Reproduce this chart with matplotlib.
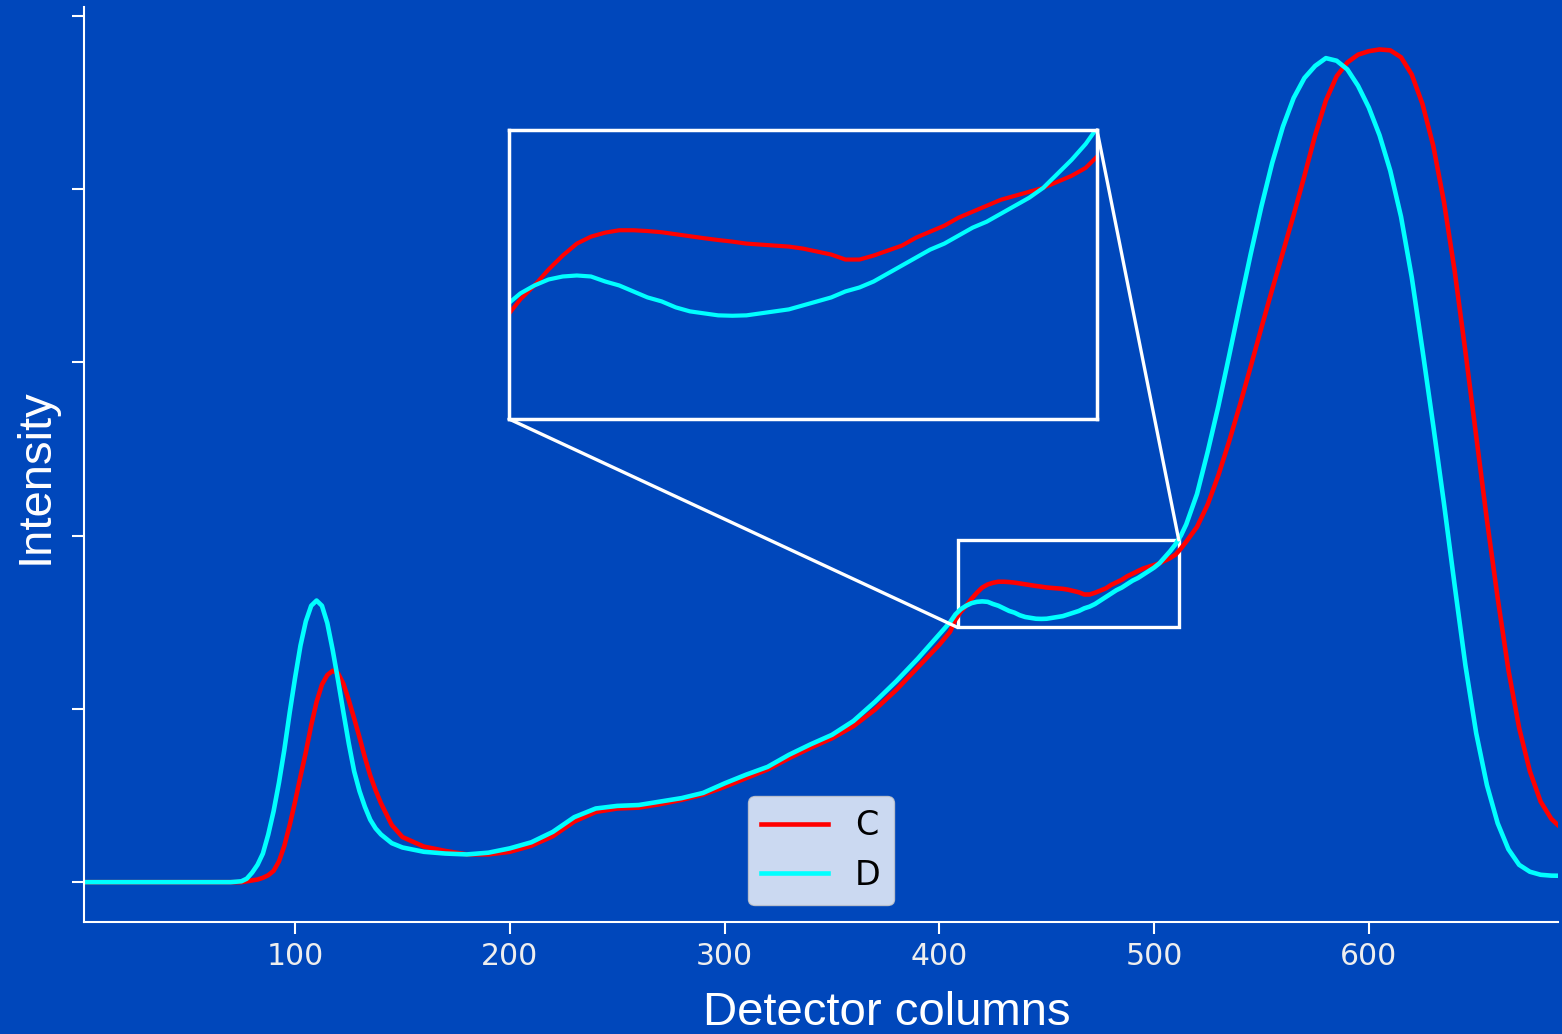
import matplotlib.pyplot as plt
from matplotlib.patches import Rectangle, ConnectionPatch

# detector column positions where the two profiles were read
cols = [2, 20, 40, 60, 70, 75,
        77.5, 80, 82.5, 85, 87.5, 90, 92.5, 95, 97.5, 100,
        102.5, 105, 107.5, 110, 112.5, 115, 117.5, 120, 122.5, 125,
        127.5, 130, 132.5, 135, 137.5, 140,
        145, 150, 160, 170, 180, 190, 200, 210, 220, 230, 240, 250, 260,
        270, 280, 290, 300, 310, 320, 330, 340, 350, 360, 370, 380, 390, 400,
        405, 407.5, 410, 412.5, 415, 417.5, 420, 422.5, 425, 427.5,
        430, 432.5, 435, 437.5, 440, 442.5, 445, 447.5, 450, 452.5,
        455, 457.5, 460, 462.5, 465, 467.5, 470, 472.5, 475, 477.5,
        480, 482.5, 485, 487.5, 490, 492.5, 495, 497.5, 500, 502.5,
        505, 507.5, 510, 512.5, 515,
        520, 525, 530, 535, 540, 545, 550, 555, 560, 565, 570, 575, 580,
        585, 590, 595, 600, 605, 610, 615, 620, 625, 630, 635, 640, 645,
        650, 655, 660, 665, 670, 675, 680, 685, 688]

c_vals = [0, 0, 0, 0, 0, 0,
          0.001, 0.002, 0.003, 0.005, 0.008, 0.013, 0.024, 0.042, 0.066, 0.093,
          0.122, 0.150, 0.181, 0.208, 0.228, 0.239, 0.244, 0.241, 0.229, 0.210,
          0.189, 0.167, 0.144, 0.123, 0.106, 0.091,
          0.066, 0.052, 0.041, 0.036, 0.032, 0.032, 0.035, 0.042, 0.053, 0.070,
          0.081, 0.085, 0.086, 0.090, 0.095, 0.101, 0.110, 0.120, 0.130, 0.143,
          0.155, 0.166, 0.180, 0.199, 0.222, 0.248, 0.274,
          0.289, 0.303, 0.312, 0.319, 0.327, 0.334, 0.340, 0.3435, 0.3455, 0.3467,
          0.3467, 0.3463, 0.3457, 0.3447, 0.3437, 0.3427, 0.3418, 0.341, 0.340, 0.3395,
          0.339, 0.3385, 0.3375, 0.336, 0.3345, 0.332, 0.332, 0.334, 0.3365, 0.339,
          0.343, 0.346, 0.349, 0.353, 0.356, 0.359, 0.362, 0.364, 0.366, 0.368,
          0.371, 0.374, 0.378, 0.385, 0.393,
          0.410, 0.436, 0.470, 0.509, 0.551, 0.595, 0.640, 0.684, 0.727, 0.770,
          0.815, 0.862, 0.902, 0.930, 0.946, 0.955, 0.959, 0.961, 0.960, 0.952,
          0.932, 0.898, 0.850, 0.785, 0.705, 0.612, 0.515, 0.418, 0.328, 0.245,
          0.178, 0.128, 0.093, 0.073, 0.066]

d_vals = [0, 0, 0, 0, 0, 0.001,
          0.004, 0.011, 0.020, 0.033, 0.055, 0.082, 0.115, 0.153, 0.196, 0.236,
          0.273, 0.301, 0.319, 0.325, 0.319, 0.299, 0.268, 0.233, 0.196, 0.160,
          0.128, 0.105, 0.087, 0.072, 0.062, 0.055,
          0.045, 0.040, 0.035, 0.033, 0.032, 0.034, 0.039, 0.046, 0.058, 0.075,
          0.085, 0.088, 0.089, 0.093, 0.097, 0.103, 0.114, 0.124, 0.133, 0.147,
          0.159, 0.170, 0.186, 0.208, 0.232, 0.258, 0.286,
          0.300, 0.309, 0.315, 0.319, 0.322, 0.3235, 0.324, 0.3235, 0.321, 0.319,
          0.316, 0.313, 0.311, 0.308, 0.306, 0.305, 0.304, 0.3038, 0.304, 0.305,
          0.306, 0.307, 0.309, 0.311, 0.313, 0.316, 0.318, 0.321, 0.325, 0.329,
          0.333, 0.337, 0.340, 0.344, 0.348, 0.351, 0.355, 0.359, 0.363, 0.368,
          0.375, 0.382, 0.390, 0.400, 0.413,
          0.448, 0.497, 0.550, 0.608, 0.667, 0.725, 0.780, 0.830, 0.872, 0.905,
          0.928, 0.942, 0.951, 0.948, 0.938, 0.919, 0.894, 0.862, 0.821, 0.768,
          0.698, 0.614, 0.527, 0.437, 0.342, 0.250, 0.172, 0.112, 0.068, 0.038,
          0.020, 0.012, 0.0085, 0.0075, 0.0074]

series = ['C', 'D']
colors = ['#ff0000', '#00ffff']
xticks = [100, 200, 300, 400, 500, 600]

bg = '#0047bb'
zoom_x = (408.5, 511.5)
zoom_y = (0.294, 0.395)

fig = plt.figure(figsize=(15.62, 10.34), dpi=100, facecolor=bg)
ax = fig.add_axes([0.05378, 0.10832, 0.94366, 0.88491], facecolor=bg)

for name, vals, col in zip(series, [c_vals, d_vals], colors):
    ax.plot(cols, vals, color=col, lw=3.3, label=name)

ax.set_xlim(1.7, 688.1)
ax.set_ylim(-0.046, 1.01)
ax.set_xticks(xticks)
ax.set_yticks([0, 0.2, 0.4, 0.6, 0.8, 1.0])
ax.tick_params(axis='both', colors='white', length=8.5, width=1.5, pad=6,
               labelsize=21.5, labelcolor='#eeeeee', labelleft=False)
for s in ['top', 'right']:
    ax.spines[s].set_visible(False)
for s in ['left', 'bottom']:
    ax.spines[s].set_color('white')
    ax.spines[s].set_linewidth(1.5)

ax.set_xlabel('Detector columns', fontsize=34, color='white', family='Liberation Sans')
ax.set_ylabel('Intensity', fontsize=34, color='white', family='Liberation Sans')
ax.xaxis.set_label_coords(0.5448, -0.0755)
ax.yaxis.set_label_coords(-0.018, 0.487)

ax.legend(loc='lower center', fontsize=24)

# zoom box on the main axes
ax.add_patch(Rectangle((zoom_x[0], zoom_y[0]), zoom_x[1] - zoom_x[0], zoom_y[1] - zoom_y[0],
                       fill=False, edgecolor='white', lw=2.4, zorder=1))

axins = fig.add_axes([0.32586, 0.59478, 0.37644, 0.27950], facecolor=bg)
for vals, col in zip([c_vals, d_vals], colors):
    axins.plot(cols, vals, color=col, lw=3)
axins.set_xlim(408, 512)
axins.set_ylim(0.252, 0.397)
axins.set_xticks([])
axins.set_yticks([])
for s in axins.spines.values():
    s.set_color('white')
    s.set_linewidth(2.5)

for a, b in [((0, 0), (zoom_x[0], zoom_y[0])), ((1, 1), (zoom_x[1], zoom_y[1]))]:
    con = ConnectionPatch(xyA=a, coordsA=axins.transAxes, xyB=b, coordsB=ax.transData,
                          color='white', lw=2.4)
    fig.add_artist(con)

fig.savefig('out.png', dpi=100, facecolor=bg)
